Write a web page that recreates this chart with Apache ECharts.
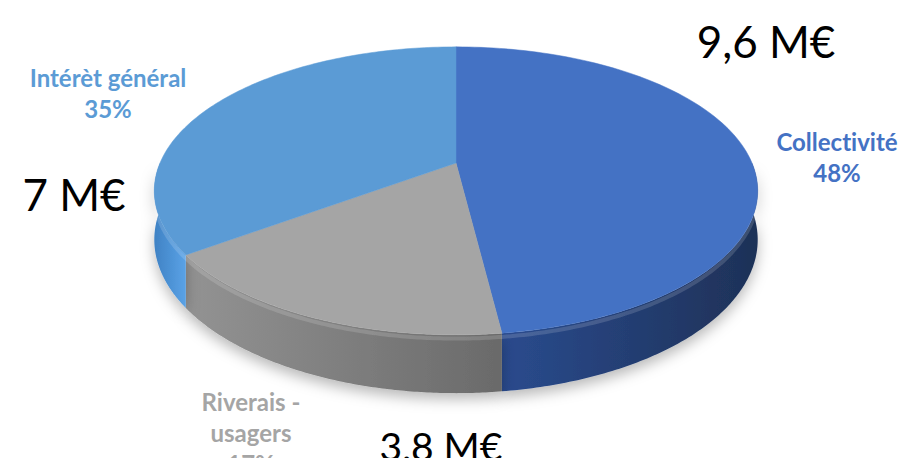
<!DOCTYPE html>
<html>
<head>
<meta charset="utf-8">
<script src="https://cdn.jsdelivr.net/npm/echarts@6/dist/echarts.min.js"></script>
<style>
html,body{margin:0;padding:0;background:#fff;}
#main{width:913px;height:458px;}
#main text{font-variant-ligatures:none !important;font-feature-settings:"liga" 0,"clig" 0 !important;}
</style>
</head>
<body>
<div id="main"></div>
<script>
// ---- data ----
var categories = ['Collectivité', 'Riverais - usagers', 'Intérèt général'];
var shares = [48, 17, 35];             // percent
var amounts = ['9,6 M€', '3,8 M€', '7 M€'];
var labelTexts = ['Collectivité', 'Riverais -\nusagers', 'Intérèt général'];

// ---- styles ----
var topColors = ['#4472C4', '#A5A5A5', '#5B9BD5'];
var sideColors = [['#2a4b8e', '#1e3157'], ['#939393', '#6a6a6a'], ['#3f82c4', '#5aa2e6']];
var labelColors = ['#4472C4', '#A5A5A5', '#5B9BD5'];

// geometry of the 3D pie (projection)
var CX = 456, CY = 163, RX = 296, RY = 138.6, K = 0.1935, DEPTH = 47;

function proj(theta, drop) {
  var u = Math.sin(theta), v = -Math.cos(theta);
  var s = 1 / (1 - K * v);
  return [CX + RX * u * s, CY + RY * v * s + (drop || 0) * s];
}

var total = shares.reduce(function (a, b) { return a + b; }, 0);
var starts = [];
(function () { var c = 0; for (var i = 0; i < shares.length; i++) { starts.push(c); c += shares[i]; } })();

function renderItem(params, api) {
  var i = params.dataIndex;
  var a0 = starts[i] / total * 2 * Math.PI;
  var a1 = (starts[i] + api.value(1)) / total * 2 * Math.PI;
  var children = [];
  var N = 120;
  var top = [[CX, CY]];
  for (var k = 0; k <= N; k++) top.push(proj(a0 + (a1 - a0) * k / N, 0));
  var s0 = Math.max(a0, Math.PI / 2), s1 = Math.min(a1, Math.PI * 1.5);
  if (s1 > s0) {
    var side = [];
    for (var k2 = 0; k2 <= N; k2++) side.push(proj(s0 + (s1 - s0) * k2 / N, 0));
    for (var k3 = N; k3 >= 0; k3--) side.push(proj(s0 + (s1 - s0) * k3 / N, DEPTH));
    children.push({
      type: 'polygon', z2: 1,
      shape: { points: side },
      style: {
        fill: new echarts.graphic.LinearGradient(0, 0, 1, 0, [
          { offset: 0, color: sideColors[i][0] }, { offset: 1, color: sideColors[i][1] }
        ]),
        shadowColor: 'rgba(0,0,0,0.28)', shadowBlur: 14, shadowOffsetY: 6
      }
    });
    var rim = [];
    for (var k4 = 0; k4 <= N; k4++) rim.push(proj(s0 + (s1 - s0) * k4 / N, 3));
    children.push({
      type: 'polyline', z2: 2,
      shape: { points: rim },
      style: { stroke: 'rgba(255,255,255,0.15)', lineWidth: 4, fill: null }
    });
  }
  children.push({
    type: 'polygon', z2: 10,
    shape: { points: top },
    style: { fill: topColors[i], stroke: topColors[i], lineWidth: 0.5 }
  });
  return { type: 'group', children: children };
}

var chart = echarts.init(document.getElementById('main'), null, { renderer: 'svg' });

var font = 'Lato, "Open Sans", sans-serif';
var labelPos = [[837, 126], [251, 386], [108, 62]];
var amountPos = [[766, 19], [441, 426], [74, 172]];
var amountSizes = [44, 39, 44];

var graphics = [];
for (var i = 0; i < categories.length; i++) {
  graphics.push({
    type: 'text', z: 100, x: labelPos[i][0], y: labelPos[i][1],
    style: {
      text: labelTexts[i] + '\n' + shares[i] + '%',
      fill: labelColors[i], font: 'bold 24px ' + font,
      textAlign: 'center', lineHeight: 31
    }
  });
  graphics.push({
    type: 'text', z: 100, x: amountPos[i][0], y: amountPos[i][1],
    style: { text: amounts[i], fill: '#000', font: amountSizes[i] + 'px ' + font, textAlign: 'center' }
  });
}

chart.setOption({
  animation: false,
  backgroundColor: '#ffffff',
  series: [{
    type: 'custom',
    coordinateSystem: 'none',
    renderItem: renderItem,
    data: categories.map(function (c, i) { return { name: c, value: [i, shares[i]] }; })
  }],
  graphic: graphics
});
</script>
</body>
</html>
